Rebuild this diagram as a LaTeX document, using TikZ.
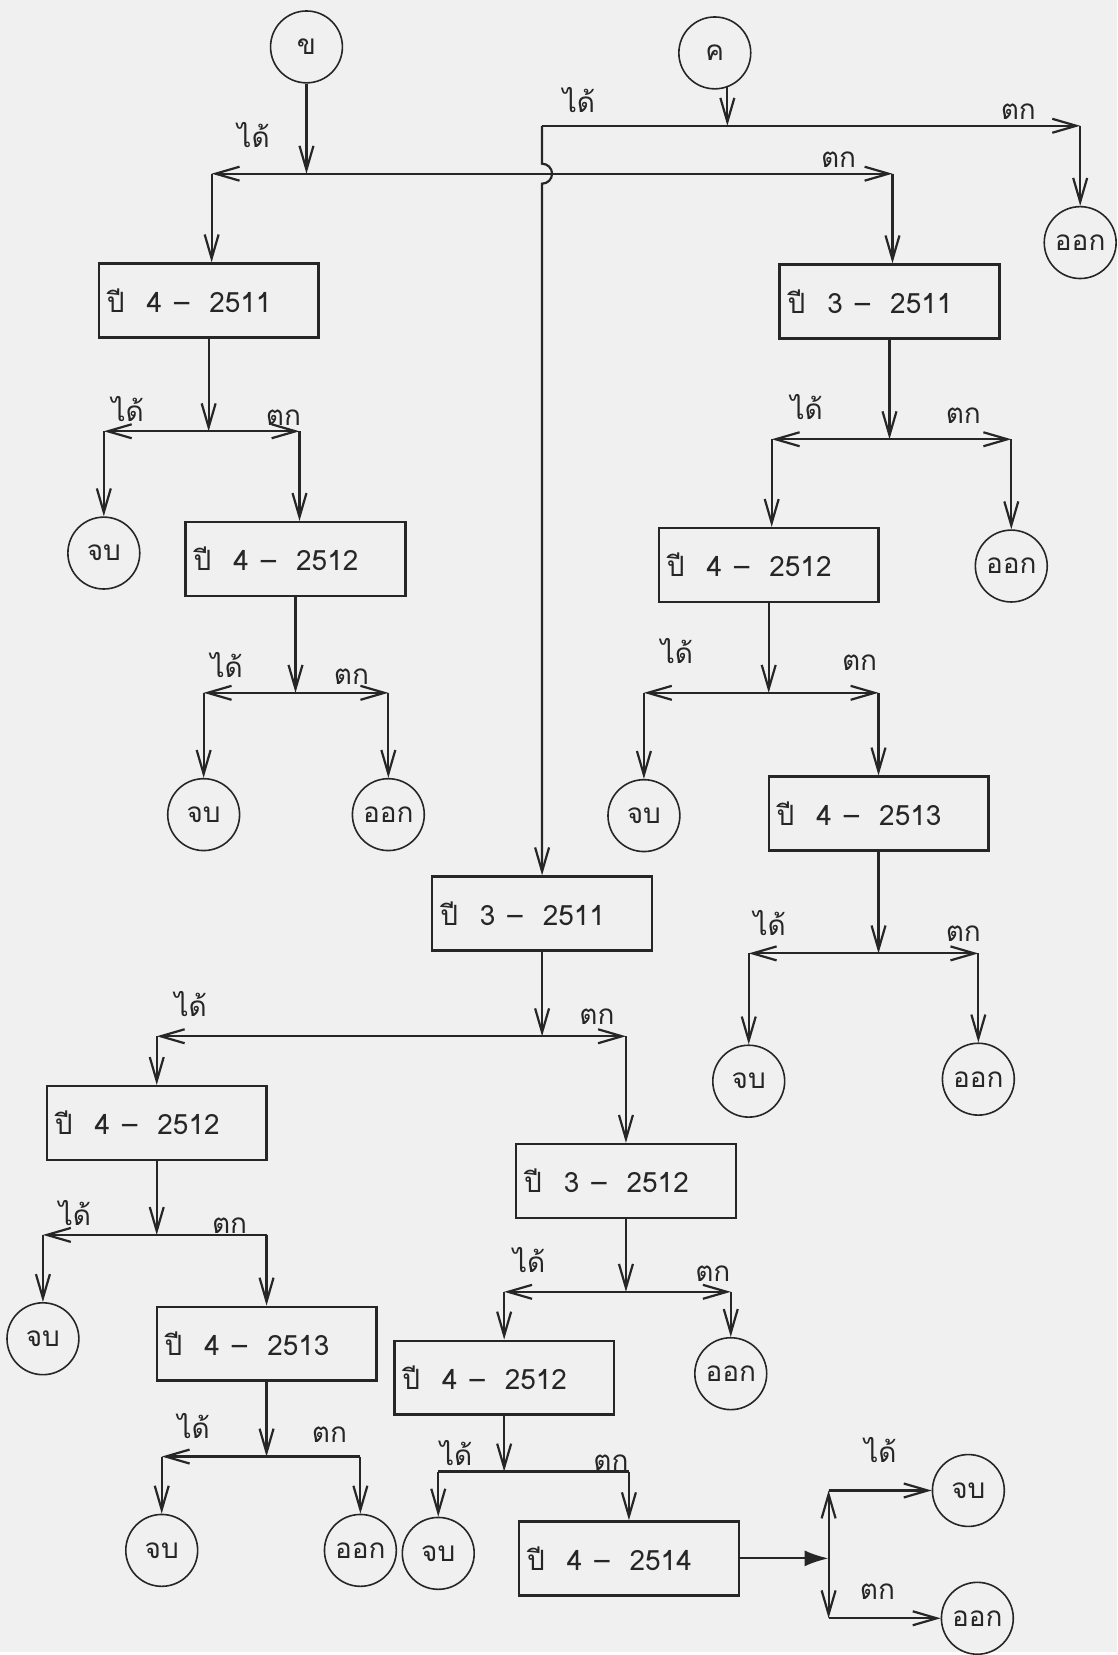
\documentclass[tikz,border=0pt]{standalone}
\usepackage{fontspec}
\usepackage{tikz}
\usetikzlibrary{arrows.meta}
\newfontfamily\thaifont[Script=Thai]{Loma}
\newcommand{\yr}[2]{ปี\hspace{11pt}#1\hspace{6pt}\textendash\hspace{10pt}#2}

\begin{document}
\begin{tikzpicture}[x=0.5pt, y=-0.5pt, >={Straight Barb[length=12pt,width=7pt]}, line width=1.1pt, color=black!85, every node/.style={font=\thaifont\fontsize{14}{16}\selectfont}]
  \tikzstyle{yearbox}=[draw, line width=1.2pt, minimum height=37pt, text width=102pt, inner xsep=4pt, align=left]
  \tikzstyle{term}=[draw, circle, line width=0.8pt, minimum size=36pt, inner sep=0pt]
  \tikzstyle{lbl}=[inner sep=0pt]
  \fill[black!6] (0,0) rectangle (1119,1655);
  % entry points
  \node[term] (khai) at (307,47) {ข};
  \node[term] (khwai) at (716,53) {ค};
  % year boxes
  \node[yearbox] (s4y11) at (209,301) {\yr{4}{2511}};
  \node[yearbox] (r3y11) at (891,302) {\yr{3}{2511}};
  \node[yearbox] (s4y12) at (296,560) {\yr{4}{2512}};
  \node[yearbox] (r4y12) at (770,566) {\yr{4}{2512}};
  \node[yearbox] (r4y13) at (880,815) {\yr{4}{2513}};
  \node[yearbox] (m3y11) at (543,915) {\yr{3}{2511}};
  \node[yearbox] (m4y12) at (157,1125) {\yr{4}{2512}};
  \node[yearbox] (m3y12) at (627,1183) {\yr{3}{2512}};
  \node[yearbox] (m4y13) at (267,1346) {\yr{4}{2513}};
  \node[yearbox] (n4y12) at (505,1380) {\yr{4}{2512}};
  \node[yearbox] (n4y14) at (630,1561) {\yr{4}{2514}};
  % end points
  \node[term] (quit1) at (1082,243) {ออก};
  \node[term] (done1) at (104,554) {จบ};
  \node[term] (done2) at (204,816) {จบ};
  \node[term] (quit2) at (389,816) {ออก};
  \node[term] (quit3) at (1013,567) {ออก};
  \node[term] (done3) at (645,817) {จบ};
  \node[term] (done4) at (750,1083) {จบ};
  \node[term] (quit4) at (980,1081) {ออก};
  \node[term] (done5) at (43,1341) {จบ};
  \node[term] (quit5) at (732,1376) {ออก};
  \node[term] (done6) at (162,1553) {จบ};
  \node[term] (quit6) at (361,1553) {ออก};
  \node[term] (done7) at (439,1556) {จบ};
  \node[term] (done8) at (970,1493) {จบ};
  \node[term] (quit8) at (979,1621) {ออก};
  % branch points
  \coordinate (tl) at (543,126);
  \coordinate (tr) at (1082,126);
  \coordinate (hop) at (543,174);
  \coordinate (j0l) at (212,174);
  \coordinate (j0r) at (894,174);
  \coordinate (j1l) at (104,432);
  \coordinate (j1r) at (300,432);
  \coordinate (j2l) at (204,694);
  \coordinate (j2r) at (389,694);
  \coordinate (j3l) at (773,440);
  \coordinate (j3r) at (1013,440);
  \coordinate (j4l) at (645,694);
  \coordinate (j4r) at (880,694);
  \coordinate (j5l) at (750,955);
  \coordinate (j5r) at (980,955);
  \coordinate (j6l) at (157,1038);
  \coordinate (j6r) at (627,1038);
  \coordinate (j7l) at (43,1237);
  \coordinate (j7r) at (267,1237);
  \coordinate (j8l) at (505,1294);
  \coordinate (j8r) at (732,1294);
  \coordinate (j9l) at (439,1474);
  \coordinate (j9r) at (630,1474);
  \coordinate (j10l) at (162,1459);
  \coordinate (j10r) at (361,1459);
  \coordinate (fork) at (830,1561);
  \coordinate (ftop) at (830,1493);
  \coordinate (fbot) at (830,1621);
  % labels
  \node[lbl] (passT) at (580,100) {ได้};
  \node[lbl] (failT) at (1020,112) {ตก};
  \node[lbl] (pass0) at (254,135) {ได้};
  \node[lbl] (fail0) at (840,160) {ตก};
  \node[lbl] (pass1) at (128,410) {ได้};
  \node[lbl] (fail1) at (284,418) {ตก};
  \node[lbl] (pass2) at (227,666) {ได้};
  \node[lbl] (fail2) at (352,678) {ตก};
  \node[lbl] (pass3) at (808,408) {ได้};
  \node[lbl] (fail3) at (965,416) {ตก};
  \node[lbl] (pass4) at (678,652) {ได้};
  \node[lbl] (fail4) at (861,664) {ตก};
  \node[lbl] (pass5) at (771,925) {ได้};
  \node[lbl] (fail5) at (965,935) {ตก};
  \node[lbl] (pass6) at (191,1006) {ได้};
  \node[lbl] (fail6) at (598,1018) {ตก};
  \node[lbl] (pass7) at (75,1215) {ได้};
  \node[lbl] (fail7) at (230,1228) {ตก};
  \node[lbl] (pass8) at (530,1262) {ได้};
  \node[lbl] (fail8) at (714,1276) {ตก};
  \node[lbl] (pass9) at (457,1455) {ได้};
  \node[lbl] (fail9) at (612,1465) {ตก};
  \node[lbl] (pass10) at (194,1428) {ได้};
  \node[lbl] (fail10) at (330,1437) {ตก};
  \node[lbl] (passF) at (882,1452) {ได้};
  \node[lbl] (failF) at (879,1594) {ตก};
  % connectors
  \draw[->] (khwai.290) -- (khwai.290 |- tl);
  \draw (khwai.290 |- tl) -- (tl);
  \draw[->] (khwai.290 |- tl) -- (tr);
  \draw[->] (tr) -- (quit1);
  \draw[->] (tl) -- ([yshift=5pt]hop) arc[start angle=90, end angle=-90, radius=5pt] -- (m3y11);
  \draw[->] (khai) -- (khai |- j0l);
  \draw[->] (khai |- j0l) -- (j0l);
  \draw[->] (khai |- j0l) -- (j0r);
  \draw[->] (j0l) -- (j0l |- s4y11.north);
  \draw[->] (j0r) -- (j0r |- r3y11.north);
  \draw[->] (s4y11) -- (s4y11 |- j1l);
  \draw[->] (s4y11 |- j1l) -- (j1l);
  \draw[->] (s4y11 |- j1l) -- (j1r);
  \draw[->] (j1l) -- (done1);
  \draw[->] (j1r) -- (j1r |- s4y12.north);
  \draw[->] (s4y12) -- (s4y12 |- j2l);
  \draw[->] (s4y12 |- j2l) -- (j2l);
  \draw[->] (s4y12 |- j2l) -- (j2r);
  \draw[->] (j2l) -- (done2);
  \draw[->] (j2r) -- (quit2);
  \draw[->] (r3y11) -- (r3y11 |- j3l);
  \draw[->] (r3y11 |- j3l) -- (j3l);
  \draw[->] (r3y11 |- j3l) -- (j3r);
  \draw[->] (j3l) -- (j3l |- r4y12.north);
  \draw[->] (j3r) -- (quit3);
  \draw[->] (r4y12) -- (r4y12 |- j4l);
  \draw[->] (r4y12 |- j4l) -- (j4l);
  \draw[->] (r4y12 |- j4l) -- (j4r);
  \draw[->] (j4l) -- (done3);
  \draw[->] (j4r) -- (j4r |- r4y13.north);
  \draw[->] (r4y13) -- (r4y13 |- j5l);
  \draw[->] (r4y13 |- j5l) -- (j5l);
  \draw[->] (r4y13 |- j5l) -- (j5r);
  \draw[->] (j5l) -- (done4);
  \draw[->] (j5r) -- (quit4);
  \draw[->] (m3y11) -- (m3y11 |- j6l);
  \draw[->] (m3y11 |- j6l) -- (j6l);
  \draw[->] (m3y11 |- j6l) -- (j6r);
  \draw[->] (j6l) -- (j6l |- m4y12.north);
  \draw[->] (j6r) -- (j6r |- m3y12.north);
  \draw[->] (m4y12) -- (m4y12 |- j7l);
  \draw[->] (m4y12 |- j7l) -- (j7l);
  \draw (m4y12 |- j7l) -- (j7r);
  \draw[->] (j7l) -- (done5);
  \draw[->] (j7r) -- (j7r |- m4y13.north);
  \draw[->] (m3y12) -- (m3y12 |- j8l);
  \draw[->] (m3y12 |- j8l) -- (j8l);
  \draw[->] (m3y12 |- j8l) -- (j8r);
  \draw[->] (j8l) -- (j8l |- n4y12.north);
  \draw[->] (j8r) -- (quit5);
  \draw[->] (n4y12) -- (n4y12 |- j9l);
  \draw (j9l) -- (j9r);
  \draw[->] (j9l) -- (done7);
  \draw[->] (j9r) -- (j9r |- n4y14.north);
  \draw[->] (m4y13) -- (m4y13 |- j10l);
  \draw[->] (m4y13 |- j10l) -- (j10l);
  \draw (m4y13 |- j10l) -- (j10r);
  \draw[->] (j10l) -- (done6);
  \draw[->] (j10r) -- (quit6);
  \draw[-{Latex[length=12pt,width=8pt]}] (n4y14) -- (fork);
  \draw[->] (fork) -- (ftop);
  \draw[->] (fork) -- (fbot);
  \draw[->] (ftop) -- (done8);
  \draw[->] (fbot) -- (quit8);
\end{tikzpicture}
\end{document}
